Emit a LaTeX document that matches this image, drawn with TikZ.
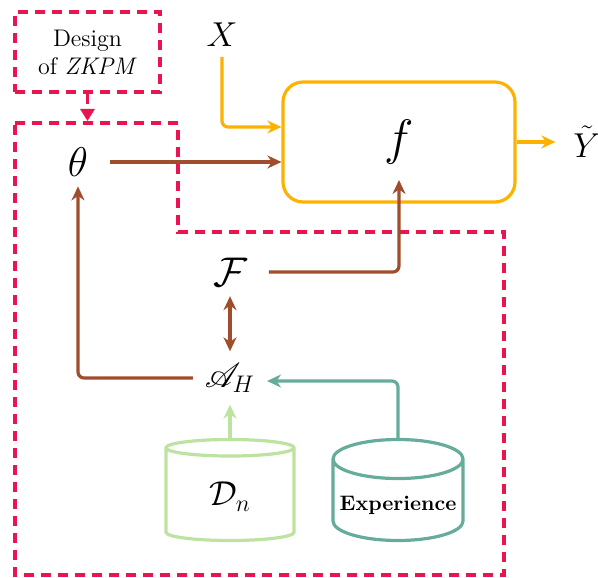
\documentclass[tikz,border=0pt]{standalone}
\usepackage{amsmath}
\usepackage{mathrsfs}
\usetikzlibrary{arrows.meta,shapes.geometric}

\definecolor{zkred}{RGB}{233,20,80}
\definecolor{zkorange}{RGB}{253,178,0}
\definecolor{zkbrown}{RGB}{160,77,45}
\definecolor{zkteal}{RGB}{102,172,155}
\definecolor{zkgreen}{RGB}{190,226,160}

\tikzset{
  flow/.style={line width=1.6pt, rounded corners=3pt, -{Stealth[length=7pt,width=6.5pt]}},
  zone/.style={zkred, line width=1.6pt, dash pattern=on 5pt off 3.5pt},
  sym/.style={inner sep=0pt, outer sep=5pt},
  store/.style={cylinder, shape border rotate=90, draw, line width=1.6pt, aspect=0.3,
    minimum width=64pt, minimum height=50.5pt, anchor=shape center}
}

\begin{document}
\begin{tikzpicture}[x=0.5pt,y=-0.5pt]
\useasboundingbox (0,0) rectangle (598,577);

% Draw the regions
\node[zone, draw, text=black, font=\large, minimum width=72.5pt, minimum height=40pt, align=center] (design) at (87.5,52) {Design\\of \textit{ZKPM}};
\draw[zone] (15,123) -- (178,123) -- (178,232) -- (504,232) -- (504,575) -- (15,575) -- cycle;
\coordinate (zonetop) at (87.5,121);

% Draw the nodes
\node[draw=zkorange, line width=1.6pt, rounded corners=10pt, minimum width=116pt, minimum height=60pt] (f) at (399,142) {\fontsize{30}{36}\selectfont $f$};
\node[sym, font=\LARGE] (X) at (222,35) {$X$};
\node[sym, font=\huge] (theta) at (78,162) {$\theta$};
\node[sym, font=\LARGE, outer sep=9pt] (Y) at (587,142) {$\tilde{Y}$};
\node[sym, font=\huge] (F) at (230,272) {$\mathcal{F}$};
\node[sym, font=\LARGE, outer sep=6pt] (AH) at (230,378) {$\mathscr{A}_H$};
\node[store, draw=zkgreen, font=\LARGE] (dn) at (230,490) {$\mathcal{D}_n$};
\node[store, draw=zkteal, font=\fontsize{10.5}{12}\bfseries] (exp) at (398,490) {Experience};

% Draw the edges
\draw[zone, -{Triangle[length=6pt,width=7pt]}] (design.south) -- (zonetop);
\draw[flow, zkorange] (X.south) |- ([yshift=7.5pt]f.west);
\draw[flow, zkorange] (f.east) -- (f.east -| Y.west);
\draw[flow, zkbrown] ([xshift=6pt]theta.east) -- (f.west |- theta);
\draw[flow, zkbrown] ([xshift=6pt]F.east) -| ([yshift=-19pt]f.center);
\draw[flow, zkbrown, {Stealth[length=7pt,width=6.5pt]}-{Stealth[length=7pt,width=6.5pt]}] (F.south) -- (AH.north);
\draw[flow, zkbrown] (AH.west) -| (theta.south);
\draw[flow, zkteal] (exp.top) |- ([yshift=-1.5pt]AH.east);
\draw[flow, zkgreen] (dn.top) -- (AH.south);

\end{tikzpicture}
\end{document}
